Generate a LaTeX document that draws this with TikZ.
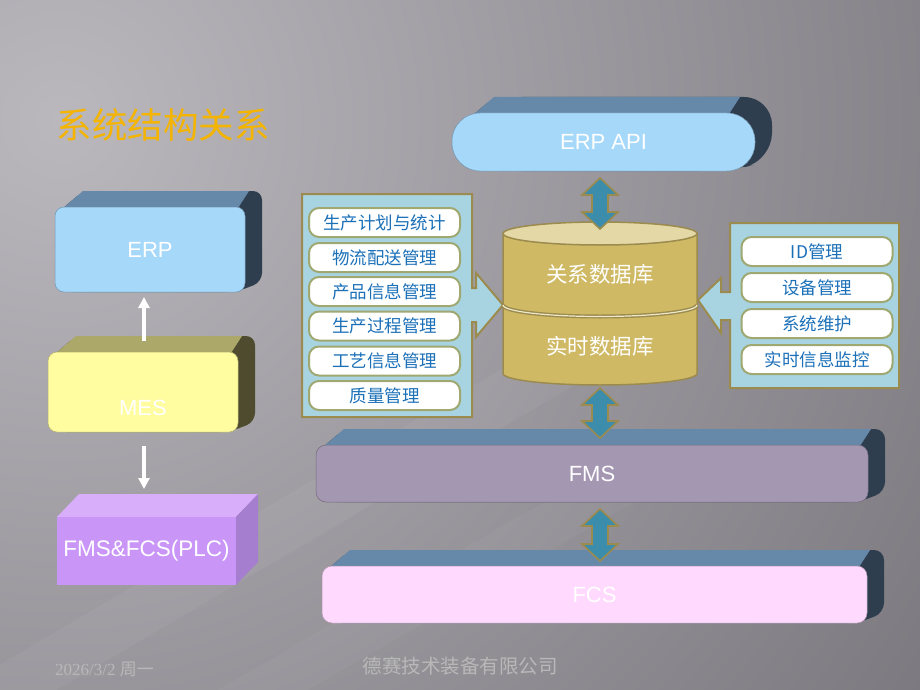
\documentclass[tikz,border=0pt]{standalone}
\usepackage{fontspec}
\setmainfont{Liberation Sans}
\newfontfamily\cjk{Noto Sans CJK SC}
\newfontfamily\serifnum{Liberation Serif}
\usetikzlibrary{arrows.meta}
\definecolor{bgdark}{HTML}{5A585E}
\definecolor{bglight}{HTML}{BAB8BD}
\definecolor{titlegold}{HTML}{F4B400}
\definecolor{erpfront}{HTML}{A6D8FA}
\definecolor{bluetop}{HTML}{6689AA}
\definecolor{blueside}{HTML}{2F3E4E}
\definecolor{mesfront}{HTML}{FFFDA0}
\definecolor{mestop}{HTML}{ABA86A}
\definecolor{messide}{HTML}{4E4B2F}
\definecolor{plcfront}{HTML}{C996F7}
\definecolor{plctop}{HTML}{D8AEFA}
\definecolor{plcside}{HTML}{A57ECF}
\definecolor{fmsfront}{HTML}{A497B2}
\definecolor{fcsfront}{HTML}{FFD9FE}
\definecolor{panelfill}{HTML}{A8D4E2}
\definecolor{olivec}{HTML}{9C8B4E}
\definecolor{itemborder}{HTML}{9EA870}
\definecolor{itemtext}{HTML}{1B70B8}
\definecolor{dbgold}{HTML}{CFB964}
\definecolor{dbtop}{HTML}{E3D8A6}
\definecolor{arrowteal}{HTML}{3B8DAB}
\definecolor{footgray}{HTML}{B8B8B8}

% extrusion faces of a bevelled box: x1 y1 x2 y2 top side radius leftinset
\newcommand\extrude[8]{%
  \fill[#6, rounded corners=#7pt] (#1+#8,#2+8) -- (#1+#8+28,#2-16) -- (#3+17,#2-16) -- (#3+17,#4-10) -- (#3-#7,#4) -- (#1+#8+#7,#4) -- cycle;
  \fill[#5] (#1+#8,#2+8) -- (#1+#8+28,#2-16) -- (#3+13-#7,#2-16) -- (#3+2-#7,#2+1) -- (#1+#8+#7,#2+1) -- cycle;
}
% double block arrow: x ytop ybottom
\newcommand\dblarrow[3]{%
  \filldraw[dbl] (#1,#2) -- (#1+18,#2+17) -- (#1+8,#2+17) -- (#1+8,#3-17) -- (#1+18,#3-17) -- (#1,#3)
     -- (#1-18,#3-17) -- (#1-8,#3-17) -- (#1-8,#2+17) -- (#1-18,#2+17) -- cycle;
}

\tikzset{
  front/.style={fill=#1, draw=#1!70!black, line width=0.5pt, text=white,
    font=\fontsize{22}{26}\selectfont, inner sep=0pt},
  item/.style={draw=itemborder, line width=2pt, fill=white, rounded corners=10pt,
    minimum width=151pt, minimum height=29pt, inner sep=0pt, text=itemtext,
    font=\cjk\fontsize{17.5}{20}\selectfont},
  panel/.style={fill=panelfill, draw=olivec, line width=2pt, line join=miter},
  dbl/.style={fill=arrowteal, draw=olivec, line width=1.6pt, line join=miter},
  wharrow/.style={draw=white, line width=3.5pt, -{Triangle[width=11pt,length=11pt]}},
  dblabel/.style={text=white, font=\cjk\fontsize{21.5}{25}\selectfont},
  titletext/.style={font=\cjk\fontsize{35.5}{40}\selectfont},
}

\begin{document}
\begin{tikzpicture}[x=1pt,y=-1pt]
\useasboundingbox (0,0) rectangle (920,690);
% background
\begin{scope}
  \clip (0,0) rectangle (920,690);
  \fill[bgdark] (0,0) rectangle (920,690);
  \shade[inner color=bglight, outer color=bgdark] (60,120) circle (1600pt);
  \fill[white, opacity=0.045] (-60,700) -- (40,700) -- (600,370) -- (500,370) -- cycle;
  \fill[white, opacity=0.035] (200,700) -- (290,700) -- (690,470) -- (600,470) -- cycle;
\end{scope}

% title
\node[titletext, text=titlegold] (title) at (163,125) {系统结构关系};

% left column
\extrude{55}{207}{245}{292}{bluetop}{blueside}{9}{0}
\node[front=erpfront, rounded corners=9pt, minimum width=190pt, minimum height=85pt] (erp) at (150,249.5) {ERP};

\extrude{48}{352}{238}{432}{mestop}{messide}{9}{0}
\node[front=mesfront, rounded corners=9pt, minimum width=190pt, minimum height=80pt] (mes) at (143,392) {};
\node[text=white, font=\fontsize{22}{26}\selectfont] (meslabel) at (143,408) {MES};

\fill[plctop] (57,517) -- (79,494) -- (258,494) -- (236,517) -- cycle;
\fill[plcside] (236,517) -- (258,494) -- (258,562) -- (236,585) -- cycle;
\node[fill=plcfront, text=white, font=\fontsize{22.5}{26}\selectfont, minimum width=179pt,
  minimum height=68pt, inner sep=0pt] (plc) at (146.5,551) {FMS\&FCS(PLC)};

\coordinate (up1) at (144,341);
\coordinate (up2) at (144,297);
\coordinate (dn1) at (144,446);
\coordinate (dn2) at (144,489);
\draw[wharrow] (up1) -- (up2);
\draw[wharrow] (dn1) -- (dn2);

% ERP API
\extrude{452}{113}{755}{171}{bluetop}{blueside}{28}{14}
\node[front=erpfront, rounded corners=28pt, minimum width=303pt, minimum height=58pt] (erpapi) at (603.5,142) {ERP API};

% FMS and FCS
\extrude{316}{445}{868}{502}{bluetop}{blueside}{10}{0}
\node[front=fmsfront, rounded corners=10pt, minimum width=552pt, minimum height=57pt] (fms) at (592,473.5) {FMS};
\extrude{322}{566}{867}{623}{bluetop}{blueside}{10}{0}
\node[front=fcsfront, rounded corners=10pt, minimum width=545pt, minimum height=57pt] (fcs) at (594.5,594.5) {FCS};

% left panel
\draw[panel] (302,194) -- (472,194) -- (472,288) -- (476,288) -- (476,273) -- (503,305) -- (476,337)
  -- (476,322) -- (472,322) -- (472,417) -- (302,417) -- cycle;
\node[item] (l1) at (384.5,222.5) {生产计划与统计};
\node[item] (l2) at (384.5,257.5) {物流配送管理};
\node[item] (l3) at (384.5,291.5) {产品信息管理};
\node[item] (l4) at (384.5,326) {生产过程管理};
\node[item] (l5) at (384.5,361) {工艺信息管理};
\node[item] (l6) at (384.5,395.5) {质量管理};

% right panel
\draw[panel] (730,223) -- (899,223) -- (899,388) -- (730,388) -- (730,320) -- (721,320) -- (721,333)
  -- (698,300) -- (721,278) -- (721,292) -- (730,292) -- cycle;
\node[item] (r1) at (817,251.5) {ID管理};
\node[item] (r2) at (817,287.5) {设备管理};
\node[item] (r3) at (817,323.5) {系统维护};
\node[item] (r4) at (817,359.5) {实时信息监控};

% database cylinder
\coordinate (db) at (600,303.5);
\path[draw=olivec, line width=1.5pt, fill=dbgold] (503,233.5) -- (503,373.5)
  arc[start angle=180, end angle=0, x radius=97, y radius=11.5] -- (697,233.5) -- cycle;
\draw[olivec, line width=4pt] (503,305) arc[start angle=180, end angle=0, x radius=97, y radius=11.5];
\draw[dbtop!60!white, line width=1.2pt] (503,305) arc[start angle=180, end angle=0, x radius=97, y radius=11.5];
\draw[olivec, line width=1.5pt, fill=dbtop] (600,233.5) ellipse[x radius=97, y radius=11.5];
\node[dblabel] (dbrel) at (600,274) {关系数据库};
\node[dblabel] (dbrt) at (600,346) {实时数据库};

% double arrows
\dblarrow{600}{178}{229}
\dblarrow{600}{388}{438}
\dblarrow{600}{509}{561}

% footer
\node[text=footgray, font=\serifnum\fontsize{17}{19}\selectfont] (date) at (104.5,669) {2026/3/2 {\cjk 周一}};
\node[text=footgray, font=\cjk\fontsize{19.5}{22}\selectfont] (company) at (460,666) {德赛技术装备有限公司};
\end{tikzpicture}
\end{document}
